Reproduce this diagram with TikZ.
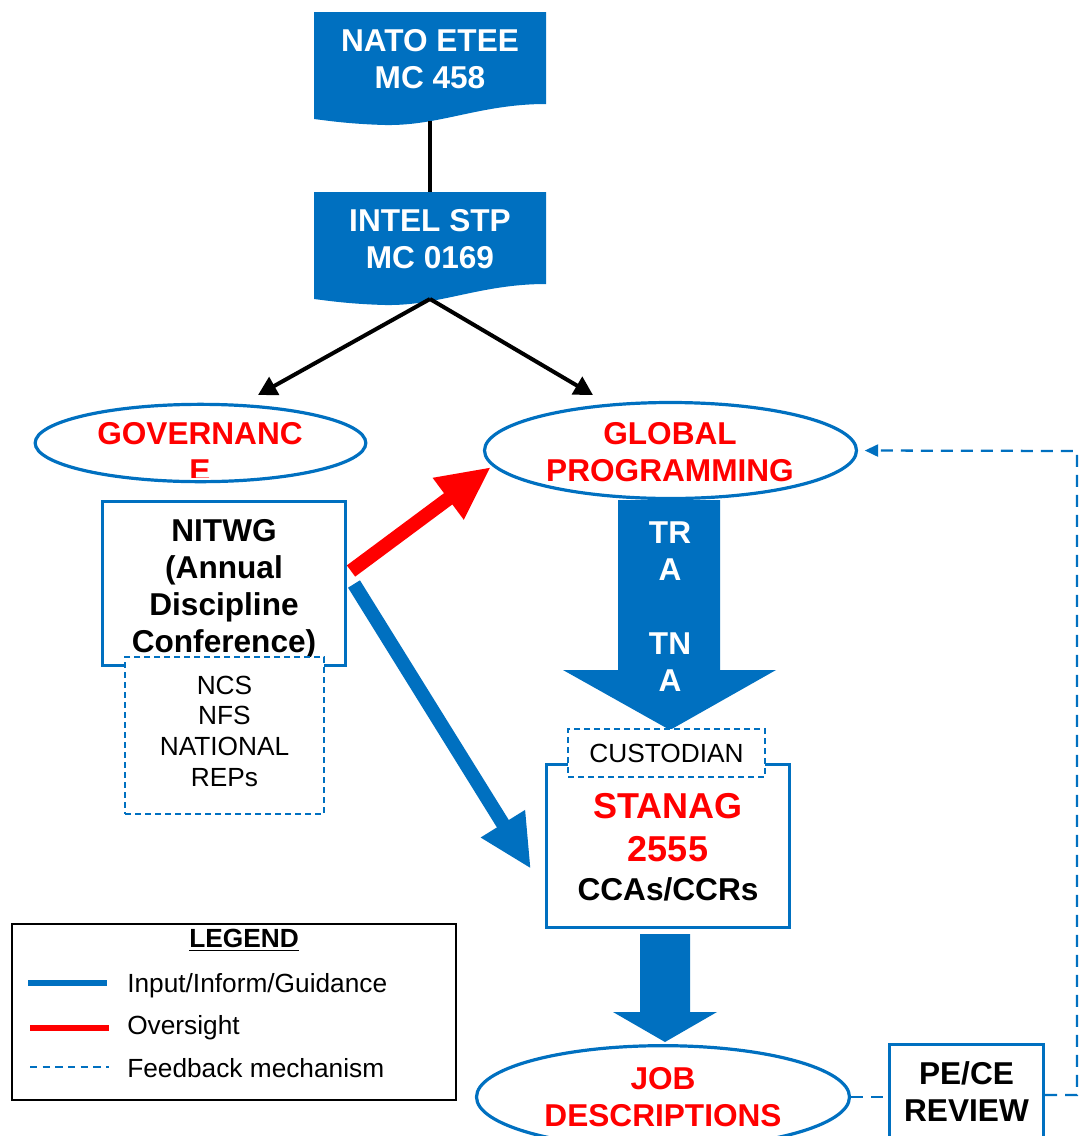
\documentclass[tikz,border=0pt]{standalone}
\usepackage{fontspec}
\setmainfont{Liberation Sans}
\usetikzlibrary{arrows.meta,shapes.geometric}
\definecolor{nblue}{HTML}{0070C0}
\definecolor{nred}{HTML}{FF0000}
\begin{document}
\begin{tikzpicture}[x=0.75pt,y=-0.75pt,
  bigtxt/.style={font=\fontsize{23.7}{27.75}\selectfont\bfseries, align=center, inner sep=0pt},
  hugetxt/.style={font=\fontsize{27}{32.25}\selectfont\bfseries, align=center, inner sep=0pt},
  smalltxt/.style={font=\fontsize{19.7}{23}\selectfont, align=center, inner sep=0pt},
  oval/.style={draw=nblue, line width=2.4pt, ellipse, fill=white, inner sep=0pt},
  bbox/.style={draw=nblue, line width=2.4pt, fill=white, inner sep=0pt},
  dbox/.style={draw=nblue, line width=1.2pt, dash pattern=on 4.5pt off 3pt, fill=white, inner sep=0pt},
  fb/.style={draw=nblue, line width=1.7pt, dash pattern=on 9pt off 6pt},
  blk/.style={draw=black, line width=3pt},
  blkarrow/.style={blk, -{Triangle[length=14pt,width=15pt]}},
  thickarrow/.style={line width=10.5pt, -{Triangle[length=40pt,width=36pt]}},
  docfill/.style={fill=nblue},
]
\clip (0,0) rectangle (1080,1136);
\fill[white] (0,0) rectangle (1080,1136);

% document shapes
\path[docfill] (314,12) -- (546,12) -- (546,104)
  .. controls (480,104) and (440,126) .. (385,125)
  .. controls (350,124) and (330,121) .. (314,119) -- cycle;
\begin{scope}[shift={(0,180)}]
\path[docfill] (314,12) -- (546,12) -- (546,104)
  .. controls (480,104) and (440,126) .. (385,125)
  .. controls (350,124) and (330,121) .. (314,119) -- cycle;
\end{scope}
\node[bigtxt, text=white] (nato) at (430,59) {NATO ETEE\\MC 458};
\node[bigtxt, text=white] (intel) at (430,239) {INTEL STP\\MC 0169};
\coordinate (natob) at (430,121);
\coordinate (intelt) at (430,192);
\coordinate (intelb) at (430,299);
\coordinate (govtip) at (258,395);
\coordinate (globtip) at (593,395);
\draw[blk] (natob) -- (intelt);
\draw[blkarrow] (intelb) -- (govtip);
\draw[blkarrow] (intelb) -- (globtip);

% ellipses
\node[oval, minimum width=248pt, minimum height=58pt] (gov) at (200.5,443) {};
\node[oval, minimum width=279pt, minimum height=72pt] (glob) at (670.5,450.5) {};
\begin{scope}
\clip (0,400) rectangle (1080,477);
\node[bigtxt, text=nred] (govtxt) at (200,451.5) {GOVERNANC\\E};
\end{scope}
\begin{scope}
\clip (0,400) rectangle (1080,481);
\node[bigtxt, text=nred] (globtxt) at (670,452) {GLOBAL\\PROGRAMMING};
\end{scope}

% NITWG
\node[bbox, minimum width=182.25pt, minimum height=123pt] (nitwg) at (224,583.5) {};
\node[bigtxt] (nitwgtxt) at (224,589) {NITWG\\(Annual\\Discipline\\Conference)};
\node[dbox, minimum width=149.25pt, minimum height=117.75pt] (ncs) at (224.5,735.5) {};
\node[smalltxt] (ncstxt) at (224.5,731) {NCS\\NFS\\NATIONAL\\REPs};

% thick arrows
\coordinate (redstart) at (351,571);
\coordinate (redtip) at (491,467);
\coordinate (bluestart) at (354,584);
\coordinate (bluetip) at (531,869);
\draw[thickarrow, nred, fill=nred] (redstart) -- (redtip);
\draw[thickarrow, nblue, fill=nblue] (bluestart) -- (bluetip);

% block arrow 1
\path[fill=nblue] (618,500) -- (720,500) -- (720,670) -- (776,670) -- (670,730)
  -- (563,670) -- (618,670) -- cycle;
\node[bigtxt, text=white] (tra) at (670,606.5) {TR\\A\\\mbox{}\\TN\\A};

% STANAG box
\node[bbox, minimum width=182.25pt, minimum height=122.25pt] (stanag) at (668,846) {};
\node[dbox, minimum width=147.75pt, minimum height=36pt] (cust) at (666.5,753) {};
\node[smalltxt] (custtxt) at (666.5,753) {CUSTODIAN};
\node[hugetxt, text=nred] (stanagtxt) at (668,827.5) {STANAG\\2555};
\node[bigtxt] (ccatxt) at (668,889) {CCAs/CCRs};

% block arrow 2
\path[fill=nblue] (640,934) -- (690,934) -- (690,1012) -- (717,1012) -- (665,1042)
  -- (613,1012) -- (640,1012) -- cycle;

% JOB ellipse
\node[oval, minimum width=279.75pt, minimum height=77pt] (job) at (663,1097) {};
\begin{scope}
\clip (0,1040) rectangle (1080,1128);
\node[bigtxt, text=nred] (jobtxt) at (663,1097) {JOB\\DESCRIPTIONS};
\end{scope}

% PE/CE
\node[bbox, minimum width=115.5pt, minimum height=93pt] (pece) at (966.5,1106.5) {};
\node[bigtxt] (pecetxt) at (966.5,1091.5) {PE/CE\\REVIEW};

% feedback
\coordinate (fb1) at (1077,1095);
\coordinate (fb2) at (1077,451);
\draw[fb] (job.east) -- (job.east -| pece.west);
\draw[fb, -{Triangle[length=10pt,width=9pt]}, shorten >=5pt] (pece.east |- fb1) -- (fb1) -- (fb2) -- (glob.east);

% legend
\node[draw=black, line width=1.5pt, minimum width=333pt, minimum height=132pt, inner sep=0pt] (legend) at (234,1012) {};
\node[smalltxt, font=\fontsize{19.7}{23}\selectfont\bfseries] (legtitle) at (244,940) {\underline{LEGEND}};
\coordinate (l1a) at (28,983); \coordinate (l1b) at (107,983);
\coordinate (l2a) at (30,1028); \coordinate (l2b) at (109,1028);
\coordinate (l3a) at (30,1067); \coordinate (l3b) at (109,1067);
\draw[nblue, line width=4.5pt] (l1a) -- (l1b);
\draw[nred, line width=4.5pt] (l2a) -- (l2b);
\draw[nblue, line width=1.5pt, dash pattern=on 5.5pt off 4pt] (l3a) -- (l3b);
\node[smalltxt, anchor=base west] (lt1) at (127,992) {Input/Inform/Guidance};
\node[smalltxt, anchor=base west] (lt2) at (127,1034) {Oversight};
\node[smalltxt, anchor=base west] (lt3) at (127,1077) {Feedback mechanism};
\end{tikzpicture}
\end{document}
